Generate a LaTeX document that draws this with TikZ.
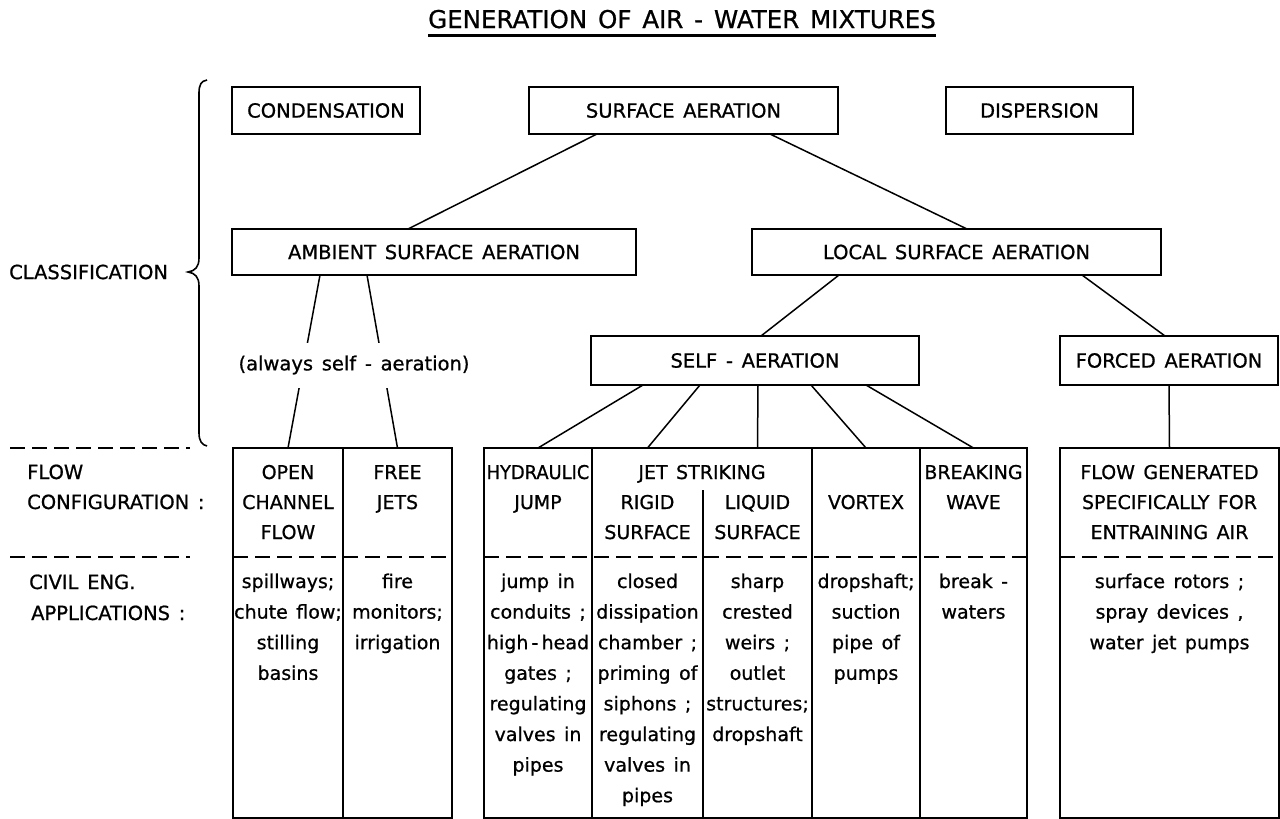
\documentclass[tikz,border=0pt]{standalone}
\usepackage{fontspec}
\setmainfont{DejaVu Sans}[WordSpace=1.4,FakeBold=0.8]
\usepackage{graphicx}
\usetikzlibrary{calc}
\newcommand\myboxfont{\fontsize{19.5}{23}\selectfont}
\newcommand\mytabfont{\fontsize{19}{23}\selectfont}
\newcommand\colrows[5]{\foreach \t [count=\i from 0] in {#5} \node[tx] (#1-\i) at (#2, #3+#4*\i) {\t};}
\begin{document}
\begin{tikzpicture}[x=1pt,y=-1pt,
  bx/.style={draw, line width=1.8pt, inner sep=0pt, outer sep=0pt, anchor=north west, font=\myboxfont},
  cn/.style={line width=1.5pt},
  ln/.style={line width=1.8pt},
  dsh/.style={line width=1.8pt, dash pattern=on 15pt off 7pt},
  tx/.style={anchor=base, inner sep=0pt, font=\mytabfont},
  lbl/.style={anchor=base west, inner sep=0pt, font=\myboxfont},
  col/.style={draw=none, inner sep=0pt, outer sep=0pt, minimum height=370pt}]
\useasboundingbox (0,0) rectangle (1280,819);
\fill[white] (0,0) rectangle (1280,819);

% title
\node[anchor=base, inner sep=0pt, font=\fontsize{24.5}{28}\selectfont] (title) at (682,28) {GENERATION OF AIR - WATER MIXTURES};
\draw[line width=3pt] ([yshift=-7pt]title.base west) -- ([yshift=-7pt]title.base east);

% classification boxes
\node[bx, minimum width=188pt, minimum height=47pt] (cond) at (232,87) {CONDENSATION};
\node[bx, minimum width=309pt, minimum height=47pt] (sa) at (529,87) {SURFACE AERATION};
\node[bx, minimum width=187pt, minimum height=47pt] (disp) at (946,87) {DISPERSION};
\node[bx, minimum width=404pt, minimum height=46pt] (amb) at (232,229) {AMBIENT SURFACE AERATION};
\node[bx, minimum width=409pt, minimum height=46pt] (loc) at (752,229) {LOCAL SURFACE AERATION};
\node[bx, minimum width=328pt, minimum height=49pt] (self) at (591,336) {SELF - AERATION};
\node[bx, minimum width=218pt, minimum height=49pt] (forced) at (1060,336) {FORCED AERATION};

% left labels and brace
\node[lbl, anchor=west] (classif) at (9,272) {CLASSIFICATION};
\draw[line width=1.6pt] (207,80) .. controls (201,81) and (199,85) .. (199,93) -- (199,258)
  .. controls (199,267) and (195,271) .. (188,272) .. controls (195,273) and (199,277) .. (199,286)
  -- (199,433) .. controls (199,441) and (202,445) .. (207,446);
\node[lbl] (flow) at (27,479) {FLOW};
\node[lbl] (config) at (27,509) {CONFIGURATION :};
\node[lbl] (civil) at (29,589) {CIVIL ENG.};
\node[lbl] (appl) at (31,620) {APPLICATIONS :};
\coordinate (d1a) at (10,448); \coordinate (d1b) at (190,448);
\coordinate (d2a) at (10,557); \coordinate (d2b) at (190,557);
\draw[dsh] (d1a) -- (d1b);
\draw[dsh] (d2a) -- (d2b);

% table columns
\node[col, minimum width=110pt] (open) at (288,633) {};
\node[col, minimum width=109pt] (free) at (397.5,633) {};
\node[col, minimum width=108pt] (hyd) at (538,633) {};
\node[col, minimum width=111pt] (rig) at (647.5,633) {};
\node[col, minimum width=109pt] (liq) at (757.5,633) {};
\node[col, minimum width=108pt] (vort) at (866,633) {};
\node[col, minimum width=107pt] (brk) at (973.5,633) {};
\node[col, minimum width=219pt] (forc) at (1169.5,633) {};
\coordinate (dashrow) at (0,557);
\coordinate (jetrow) at (0,490);

\draw[ln] (open.north west) rectangle (free.south east);
\draw[ln] (open.north east) -- (open.south east);
\draw[ln] (hyd.north west) rectangle (brk.south east);
\draw[ln] (hyd.north east) -- (hyd.south east);
\draw[ln] (rig.east |- jetrow) -- (rig.south east);
\draw[ln] (liq.north east) -- (liq.south east);
\draw[ln] (vort.north east) -- (vort.south east);
\draw[ln] (forc.north west) rectangle (forc.south east);
\draw[dsh] (open.west |- dashrow) -- (free.east |- dashrow);
\draw[dsh] (hyd.west |- dashrow) -- (brk.east |- dashrow);
\draw[dsh] (forc.west |- dashrow) -- (forc.east |- dashrow);

% connectors
\draw[cn] ([xshift=68pt]sa.south west) -- ([xshift=176pt]amb.north west);
\draw[cn] ([xshift=241pt]sa.south west) -- ([xshift=215pt]loc.north west);
\draw[cn] ([xshift=87pt]loc.south west) -- ([xshift=170pt]self.north west);
\draw[cn] ([xshift=330pt]loc.south west) -- ([xshift=105pt]forced.north west);
\draw[cn] ([xshift=52pt]self.south west) -- (hyd.north);
\draw[cn] ([xshift=109pt]self.south west) -- (rig.north);
\draw[cn] ([xshift=167pt]self.south west) -- (liq.north);
\draw[cn] ([xshift=220pt]self.south west) -- (vort.north);
\draw[cn] ([xshift=275pt]self.south west) -- (brk.north);
\draw[cn] (forced.south) -- (forc.north);
\draw[cn] ([xshift=88pt]amb.south west) -- (open.north);
\draw[cn] ([xshift=135pt]amb.south west) -- (free.north);
\node[fill=white, inner xsep=1pt, inner ysep=0pt, minimum height=45pt, font=\myboxfont] (always) at (354,365) {(always self - aeration)};

% flow configuration texts
\colrows{ta}{288}{479}{30}{OPEN,CHANNEL,FLOW}
\colrows{tb}{397.5}{479}{30}{FREE,JETS}
\node[tx] (th-0) at (538,479) {\scalebox{0.94}[1]{HYDRAULIC}};
\node[tx] (th-1) at (538,509) {JUMP};
\node[tx] (jet) at (702,479) {JET STRIKING};
\colrows{tr}{647.5}{509}{30}{RIGID,SURFACE}
\colrows{tl}{757.5}{509}{30}{LIQUID,SURFACE}
\node[tx] (tv) at (866,509) {VORTEX};
\colrows{tk}{973.5}{479}{30}{BREAKING,WAVE}
\colrows{tf}{1169.5}{479}{30}{FLOW GENERATED,SPECIFICALLY FOR,ENTRAINING AIR}

% applications
\colrows{aa}{288}{588}{30.6}{spillways;,chute flow;,stilling,basins}
\colrows{ab}{397.5}{588}{30.6}{fire,monitors;,irrigation}
\colrows{ah}{538}{588}{30.6}{jump in,conduits ;,high\,-\,head,gates ;,regulating,valves in,pipes}
\colrows{ar}{647.5}{588}{30.6}{closed,dissipation,chamber ;,priming of,siphons ;,regulating,valves in,pipes}
\colrows{al}{757.5}{588}{30.6}{sharp,crested,weirs ;,outlet,structures;,dropshaft}
\colrows{av}{866}{588}{30.6}{dropshaft;,suction,pipe of,pumps}
\colrows{ak}{973.5}{588}{30.6}{break -,waters}
\colrows{af}{1169.5}{588}{30.6}{surface rotors ;,{spray devices ,},water jet pumps}
\end{tikzpicture}
\end{document}
